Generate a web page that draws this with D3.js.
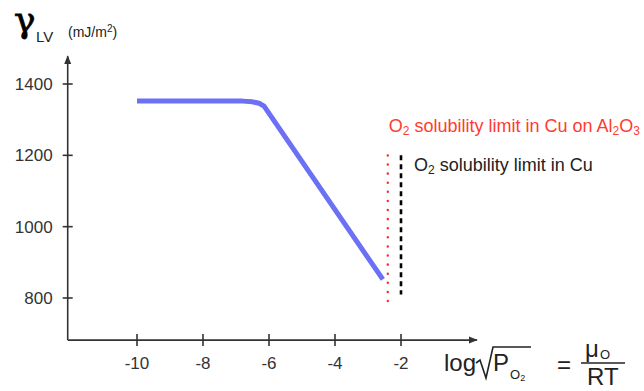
<!DOCTYPE html>
<html>
<head>
<meta charset="utf-8">
<script src="https://cdn.jsdelivr.net/npm/d3@7"></script>
<style>
  html, body { margin: 0; padding: 0; background: #fff; }
  svg { display: block; font-family: "Liberation Sans", Arial, Helvetica, sans-serif; }
</style>
</head>
<body>
<div id="chart"></div>
<script>
// γ_LV vs log√P_O2 — plateau then linear drop, two solubility limits as vertical markers
const xTicks = [-10, -8, -6, -4, -2];
const yTicks = [800, 1000, 1200, 1400];
const curveX = [-10, -6.8, -6.5, -6.3, -6.15, -2.55];
const curveY = [1352, 1352, 1350, 1346, 1338, 852];
const limitAl2O3 = { x: -2.4, y0: 1200, y1: 790 };   // red dotted
const limitCu = { x: -2.0, y0: 1200, y1: 810 };      // black dashed

const W = 644, H = 391;
const INK = "#333";
const x = d3.scaleLinear().domain([-10, -2]).range([137, 401]);
const y = d3.scaleLinear().domain([800, 1400]).range([298, 84]);

const svg = d3.select("#chart").append("svg")
  .attr("width", W).attr("height", H).attr("viewBox", `0 0 ${W} ${H}`);

// axes: origin at x=-12.1, y≈682
const AX0 = x(-12.1), AY0 = y(682);
const defs = svg.append("defs");
defs.append("marker").attr("id", "arr").attr("viewBox", "0 0 10 10")
  .attr("refX", 9).attr("refY", 5).attr("markerWidth", 9).attr("markerHeight", 9)
  .attr("markerUnits", "userSpaceOnUse").attr("orient", "auto")
  .append("path").attr("d", "M0,1 L10,5 L0,9 Z").attr("fill", INK);

svg.append("line").attr("x1", AX0).attr("x2", AX0).attr("y1", AY0).attr("y2", y(1478))
  .attr("stroke", INK).attr("stroke-width", 1.6).attr("marker-end", "url(#arr)");
svg.append("line").attr("x1", AX0).attr("x2", x(0.3)).attr("y1", AY0).attr("y2", AY0)
  .attr("stroke", INK).attr("stroke-width", 1.6).attr("marker-end", "url(#arr)");

yTicks.forEach(v => {
  svg.append("line").attr("x1", AX0 - 5).attr("x2", AX0 + 5).attr("y1", y(v)).attr("y2", y(v))
    .attr("stroke", INK).attr("stroke-width", 1.6);
  svg.append("text").attr("x", AX0 - 15).attr("y", y(v)).attr("dy", "0.36em")
    .attr("text-anchor", "end").attr("fill", INK).style("font-size", "17px").text(v);
});
xTicks.forEach(v => {
  svg.append("line").attr("x1", x(v)).attr("x2", x(v)).attr("y1", AY0 - 6).attr("y2", AY0 + 6)
    .attr("stroke", INK).attr("stroke-width", 1.6);
  svg.append("text").attr("x", x(v)).attr("y", AY0 + 29)
    .attr("text-anchor", "middle").attr("fill", INK).style("font-size", "17px").text(v);
});

// curve: flat plateau, short knee, straight decline
const line = d3.line().x((d, i) => x(curveX[i])).y(d => y(d));
svg.append("path").attr("d", line(curveY)).attr("fill", "none")
  .attr("stroke", "#6c70f4").attr("stroke-width", 5)
  .attr("stroke-linejoin", "round").attr("stroke-linecap", "butt");

// limits
svg.append("line").attr("x1", x(limitAl2O3.x)).attr("x2", x(limitAl2O3.x))
  .attr("y1", y(limitAl2O3.y0)).attr("y2", y(limitAl2O3.y1))
  .attr("stroke", "#ff2a2a").attr("stroke-width", 2.4).attr("stroke-linecap", "round")
  .attr("stroke-dasharray", "0.1 9");
svg.append("line").attr("x1", x(limitCu.x)).attr("x2", x(limitCu.x))
  .attr("y1", y(limitCu.y0)).attr("y2", y(limitCu.y1))
  .attr("stroke", "#000").attr("stroke-width", 2.6).attr("stroke-dasharray", "5 4");

// annotation text
const red = svg.append("text").attr("x", x(limitAl2O3.x) + 1).attr("y", 132)
  .attr("fill", "#ff3b30").style("font-size", "18px");
red.append("tspan").text("O");
red.append("tspan").attr("dy", 3).style("font-size", "12px").text("2");
red.append("tspan").attr("dy", -3).text(" solubility limit in Cu on Al");
red.append("tspan").attr("dy", 3).style("font-size", "12px").text("2");
red.append("tspan").attr("dy", -3).text("O");
red.append("tspan").attr("dy", 3).style("font-size", "12px").text("3");

const blk = svg.append("text").attr("x", x(limitCu.x) + 13).attr("y", 171)
  .attr("fill", "#222").style("font-size", "18px");
blk.append("tspan").text("O");
blk.append("tspan").attr("dy", 3).style("font-size", "12px").text("2");
blk.append("tspan").attr("dy", -3).text(" solubility limit in Cu");

// y title
svg.append("text").attr("x", 14).attr("y", 32).attr("fill", "#000")
  .attr("stroke", "#000").attr("stroke-width", 0.8)
  .style("font-family", "'DejaVu Serif', serif").style("font-size", "36px").text("γ");
svg.append("text").attr("x", 36).attr("y", 42).attr("fill", "#222").style("font-size", "15px").text("LV");
const unit = svg.append("text").attr("x", 68).attr("y", 37).attr("fill", "#222").style("font-size", "14px");
unit.append("tspan").text("(mJ/m");
unit.append("tspan").attr("dy", -5).style("font-size", "10px").text("2");
unit.append("tspan").attr("dy", 5).text(")");

// x title: log√P_O2 = μ_O / RT
const F = 24;
svg.append("text").attr("x", 444).attr("y", 371).attr("fill", "#222").style("font-size", F + "px").text("log");
svg.append("path").attr("d", "M476,363 L480,360 L486,378 L493,347 L531,347")
  .attr("fill", "none").attr("stroke", "#222").attr("stroke-width", 1.6);
svg.append("text").attr("x", 493).attr("y", 371).attr("fill", "#222").style("font-size", F + "px").text("P");
const po = svg.append("text").attr("x", 510).attr("y", 379).attr("fill", "#222").style("font-size", "13px");
po.append("tspan").text("O");
po.append("tspan").attr("dy", 2).style("font-size", "9px").text("2");
svg.append("text").attr("x", 557).attr("y", 373).attr("fill", "#222").style("font-size", F + "px").text("=");
svg.append("text").attr("x", 585).attr("y", 357).attr("fill", "#222").style("font-size", F + "px").text("μ");
svg.append("text").attr("x", 600).attr("y", 359).attr("fill", "#222").style("font-size", "13px").text("O");
svg.append("line").attr("x1", 581).attr("x2", 625).attr("y1", 363).attr("y2", 363)
  .attr("stroke", "#222").attr("stroke-width", 1.6);
svg.append("text").attr("x", 587).attr("y", 385).attr("fill", "#222").style("font-size", F + "px").text("RT");
</script>
</body>
</html>
